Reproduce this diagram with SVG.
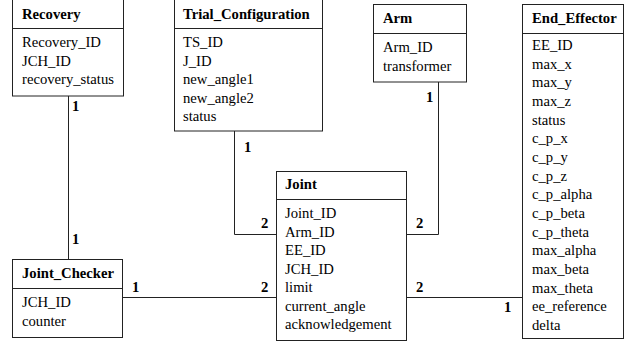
<svg xmlns="http://www.w3.org/2000/svg" width="626" height="343" viewBox="0 0 626 343">
<style>
  .box { fill: #ffffff; stroke: #222222; stroke-width: 1; }
  .div { stroke: #222222; stroke-width: 1; }
  .hdr { font-family: "Liberation Serif", "Times New Roman", serif; font-size: 14.67px; font-weight: bold; fill: #000; }
  .row { font-family: "Liberation Serif", "Times New Roman", serif; font-size: 14.67px; fill: #000; }
  .lbl { font-family: "Liberation Serif", "Times New Roman", serif; font-size: 14.67px; font-weight: bold; fill: #000; }
  .edge { fill: none; stroke: #222222; stroke-width: 1; }
</style>
<rect width="626" height="343" fill="#ffffff"/>
<g id="connectors">
  <path class="edge" d="M68.5 96 V259"/>
  <path class="edge" d="M234.5 131 V234.5 H276"/>
  <path class="edge" d="M438.5 82 V234.5 H407"/>
  <path class="edge" d="M123 297.5 H276"/>
  <path class="edge" d="M407 297.5 H522"/>
  <text class="lbl" x="72" y="111">1</text>
  <text class="lbl" x="72" y="244">1</text>
  <text class="lbl" x="244" y="152">1</text>
  <text class="lbl" x="261" y="228">2</text>
  <text class="lbl" x="426" y="102">1</text>
  <text class="lbl" x="416" y="228">2</text>
  <text class="lbl" x="132" y="292">1</text>
  <text class="lbl" x="261" y="292">2</text>
  <text class="lbl" x="416" y="292">2</text>
  <text class="lbl" x="504" y="312">1</text>
</g>
<g id="Recovery">
  <rect class="box" x="12.5" y="-0.5" width="111" height="96.5"/>
  <line class="div" x1="12.5" y1="28.5" x2="123.5" y2="28.5"/>
  <text class="hdr" x="22" y="18.5">Recovery</text>
  <text class="row" x="22" y="47">Recovery_ID</text>
  <text class="row" x="22" y="65.5">JCH_ID</text>
  <text class="row" x="22" y="84">recovery_status</text>
</g>
<g id="Trial_Configuration">
  <rect class="box" x="174.5" y="-0.5" width="148" height="131.5"/>
  <line class="div" x1="174.5" y1="28.5" x2="322.5" y2="28.5"/>
  <text class="hdr" x="183" y="18.5">Trial_Configuration</text>
  <text class="row" x="183" y="47">TS_ID</text>
  <text class="row" x="183" y="65.5">J_ID</text>
  <text class="row" x="183" y="84">new_angle1</text>
  <text class="row" x="183" y="102.5">new_angle2</text>
  <text class="row" x="183" y="121">status</text>
</g>
<g id="Arm">
  <rect class="box" x="373.5" y="4.5" width="93" height="77.5"/>
  <line class="div" x1="373.5" y1="33.5" x2="466.5" y2="33.5"/>
  <text class="hdr" x="383" y="23">Arm</text>
  <text class="row" x="383" y="52">Arm_ID</text>
  <text class="row" x="383" y="70.5">transformer</text>
</g>
<g id="End_Effector">
  <rect class="box" x="522.5" y="4.5" width="101" height="334"/>
  <line class="div" x1="522.5" y1="33.5" x2="623.5" y2="33.5"/>
  <text class="hdr" x="532" y="23">End_Effector</text>
  <text class="row" x="532" y="50">EE_ID</text>
  <text class="row" x="532" y="68.7">max_x</text>
  <text class="row" x="532" y="87.3">max_y</text>
  <text class="row" x="532" y="106">max_z</text>
  <text class="row" x="532" y="124.7">status</text>
  <text class="row" x="532" y="143.3">c_p_x</text>
  <text class="row" x="532" y="162">c_p_y</text>
  <text class="row" x="532" y="180.7">c_p_z</text>
  <text class="row" x="532" y="199.3">c_p_alpha</text>
  <text class="row" x="532" y="218">c_p_beta</text>
  <text class="row" x="532" y="236.7">c_p_theta</text>
  <text class="row" x="532" y="255.3">max_alpha</text>
  <text class="row" x="532" y="274">max_beta</text>
  <text class="row" x="532" y="292.7">max_theta</text>
  <text class="row" x="532" y="311.3">ee_reference</text>
  <text class="row" x="532" y="330">delta</text>
</g>
<g id="Joint">
  <rect class="box" x="276.5" y="171.5" width="130" height="169"/>
  <line class="div" x1="276.5" y1="199.5" x2="406.5" y2="199.5"/>
  <text class="hdr" x="285" y="189">Joint</text>
  <text class="row" x="285" y="218">Joint_ID</text>
  <text class="row" x="285" y="236.5">Arm_ID</text>
  <text class="row" x="285" y="255">EE_ID</text>
  <text class="row" x="285" y="273.5">JCH_ID</text>
  <text class="row" x="285" y="292">limit</text>
  <text class="row" x="285" y="310.5">current_angle</text>
  <text class="row" x="285" y="329">acknowledgement</text>
</g>
<g id="Joint_Checker">
  <rect class="box" x="12.5" y="259.5" width="110" height="78"/>
  <line class="div" x1="12.5" y1="288.5" x2="122.5" y2="288.5"/>
  <text class="hdr" x="22" y="278">Joint_Checker</text>
  <text class="row" x="22" y="307">JCH_ID</text>
  <text class="row" x="22" y="325.5">counter</text>
</g>
</svg>
